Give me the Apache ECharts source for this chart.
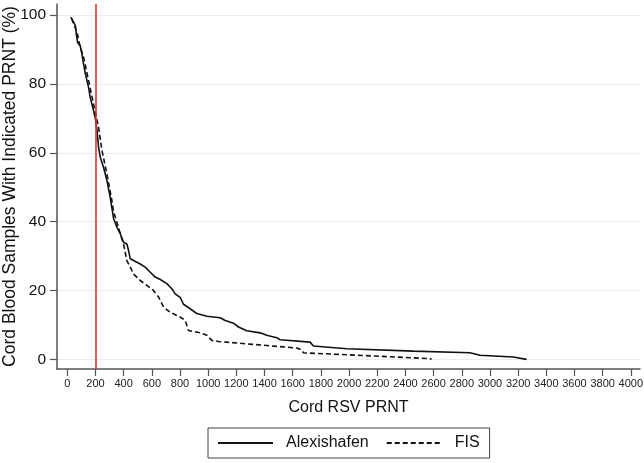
<!DOCTYPE html>
<html><head><meta charset="utf-8">
<script src="https://cdn.jsdelivr.net/npm/echarts@6/dist/echarts.min.js"></script>
<style>html,body{margin:0;padding:0;background:#fff}#c{width:644px;height:463px}</style>
</head><body><div id="c"></div>
<script>
const xTicks = [0,200,400,600,800,1000,1200,1400,1600,1800,2000,2200,2400,2600,2800,3000,3200,3400,3600,3800,4000];
const yTicks = [0,20,40,60,80,100];
const cutoff = 200;
const alexX = [25,57,64,73,92,104,111,128,151,163,182,199,211,222,234,257,281,305,328,352,376,399,423,435,447,470,518,553,589,624,660,707,742,766,801,825,872,920,991,1085,1121,1180,1215,1274,1369,1416,1487,1511,1723,1747,1984,2456,2858,2929,3165,3260];
const alexY = [99.4,97,94.5,92,91,88.7,86.8,83,79,76,73,70,66.5,61.6,58.7,55.8,52,47,41,38.4,36.5,34,33.5,31.6,29.2,28.7,27.7,26.8,25.3,23.9,23.2,22,20.5,19,18,16,14.7,13.3,12.5,12.1,11.3,10.5,9.4,8.3,7.7,7.0,6.3,5.7,5.0,3.9,3.1,2.4,1.9,1.2,0.7,0];
const fisX = [30,50,69,90,116,151,187,222,246,281,317,328,352,376,399,423,447,470,518,565,612,648,683,730,801,837,860,943,991,1026,1073,1274,1629,1665,1676,2220,2574,2586];
const fisY = [99,97,95,91,87.7,81,74,67.4,60.7,53.9,46,43,39.8,36.5,33.5,28.7,26.8,24.8,22.9,21.5,20,18.1,15.2,13.7,12.3,11.3,8.4,7.7,7.0,5.5,5.2,4.5,3.3,2.7,1.9,0.9,0.2,0];

const font = '"Liberation Sans", Arial, Helvetica, sans-serif';
const chart = echarts.init(document.getElementById('c'), null, {renderer:'canvas'});
chart.setOption({
  animation:false,
  backgroundColor:'#fff',
  textStyle:{fontFamily:font},
  grid:{left:57, right:4, top:4, bottom:94, containLabel:false, outerBoundsMode:'none'},
  legend:{
    left:208, top:428, itemWidth:55, itemHeight:10, itemGap:17,
    borderColor:'#444', borderWidth:1, padding:[7,10,7,9],
    itemStyle:{opacity:0},
    textStyle:{fontFamily:font, fontSize:16, color:'#111', padding:[0,0,0,8]},
    data:['Alexishafen','FIS']
  },
  xAxis:{
    type:'value', min:-73, max:4065,
    name:'Cord RSV PRNT', nameLocation:'middle', nameGap:31, nameMoveOverlap:false,
    nameTextStyle:{fontFamily:font, fontSize:16, color:'#111'},
    axisLine:{show:true, onZero:false, lineStyle:{color:'#555', width:1.5}},
    axisTick:{show:true, length:7, customValues:xTicks, lineStyle:{color:'#555', width:1.2}},
    axisLabel:{customValues:xTicks, fontSize:11, color:'#222', margin:9, fontFamily:font, formatter:v=>String(v)},
    splitLine:{show:false}
  },
  yAxis:{
    type:'value', min:-2.8, max:103.2,
    name:'Cord Blood Samples With Indicated PRNT (%)', nameLocation:'middle', nameGap:38, nameMoveOverlap:false,
    nameTextStyle:{fontFamily:font, fontSize:17.5, color:'#111'},
    axisLine:{show:true, onZero:false, lineStyle:{color:'#555', width:1.5}},
    axisTick:{show:true, length:7, customValues:yTicks, lineStyle:{color:'#555', width:1.2}},
    axisLabel:{customValues:yTicks, fontSize:15.5, color:'#111', margin:11, fontFamily:font, formatter:v=>String(v)},
    splitLine:{show:true, lineStyle:{color:'#e6eef0', width:1}}
  },
  series:[
    {name:'Alexishafen', type:'line', symbol:'none', data:alexX.map((x,i)=>[x,alexY[i]]),
     lineStyle:{color:'#111', width:1.6}, itemStyle:{color:'#111'},
     markLine:{silent:true, symbol:'none', label:{show:false},
       lineStyle:{color:'#d9342f', width:1.6, type:'solid'}, data:[{xAxis:cutoff}]}},
    {name:'FIS', type:'line', symbol:'none', data:fisX.map((x,i)=>[x,fisY[i]]),
     lineStyle:{color:'#111', width:1.6, type:[5,3]}, itemStyle:{color:'#111'}}
  ]
});
</script></body></html>
